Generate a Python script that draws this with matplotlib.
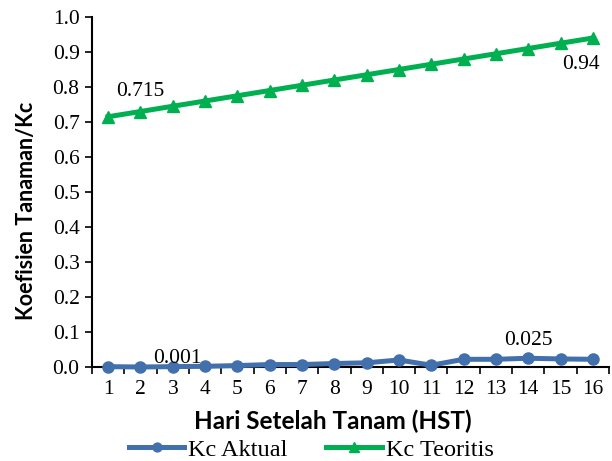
import numpy as np
import matplotlib.pyplot as plt

# Hari setelah tanam (HST)
hst = np.arange(1, 17)

# Koefisien tanaman aktual dan teoritis
kc_aktual = [0.001, 0.0, 0.001, 0.002, 0.004, 0.007, 0.007, 0.010,
             0.012, 0.020, 0.005, 0.022, 0.022, 0.025, 0.023, 0.022]
kc_teoritis = [0.715, 0.730, 0.745, 0.760, 0.775, 0.790, 0.805, 0.820,
               0.835, 0.850, 0.865, 0.880, 0.895, 0.910, 0.925, 0.940]

green = "#00B050"
blue = "#4170AD"
serif = ["Liberation Serif", "DejaVu Serif"]
sans = ["Lato", "DejaVu Sans"]

fig = plt.figure(figsize=(6.12, 4.61), dpi=100)
ax = fig.add_axes([92 / 612, 1 - 367 / 461, 517 / 612, 350 / 461])

ax.plot(hst, kc_aktual, color=blue, lw=3.6, marker="o", ms=8,
        label="Kc Aktual", clip_on=False, zorder=3)
ax.plot(hst, kc_teoritis, color=green, lw=3.6, marker="^", ms=8.5,
        label="Kc Teoritis", clip_on=False, zorder=3)

# data labels
lab_kw = dict(textcoords="offset points", fontsize=15.5, family=serif)
ax.annotate(f"{kc_aktual[2]:g}", (hst[2], kc_aktual[2]), xytext=(3, -1),
            ha="center", va="bottom", **lab_kw)
ax.annotate(f"{kc_aktual[13]:g}", (hst[13], kc_aktual[13]), xytext=(0, 6),
            ha="center", va="bottom", **lab_kw)
ax.annotate(f"{kc_teoritis[0]:g}", (hst[0], kc_teoritis[0]), xytext=(6, 11),
            ha="left", va="bottom", **lab_kw)
ax.annotate(f"{kc_teoritis[-1]:g}", (hst[-1], kc_teoritis[-1]), xytext=(5, -12),
            ha="right", va="top", **lab_kw)

ax.set_xlim(0.5, 16.5)
ax.set_ylim(0, 1.0)
ax.set_xticks(hst)
ax.set_xticks(np.arange(0.5, 17, 1), minor=True)
yt = np.round(np.arange(0, 1.01, 0.1), 1)
ax.set_yticks(yt)
ax.set_yticklabels([f"{v:.1f}" for v in yt])
ax.tick_params(axis="x", which="major", length=0, pad=9)
ax.tick_params(axis="x", which="minor", length=5, width=1.2, direction="out")
ax.tick_params(axis="y", length=5, width=1.2, direction="out", pad=4)
for lab in ax.get_xticklabels() + ax.get_yticklabels():
    lab.set_fontfamily(serif)
    lab.set_fontsize(15.5)

for side in ["top", "right"]:
    ax.spines[side].set_visible(False)
for side in ["left", "bottom"]:
    ax.spines[side].set_linewidth(1.5)

ax.set_xlabel("Hari Setelah Tanam (HST)", fontsize=17.5, fontweight="bold",
              family=sans, va="center")
ax.xaxis.set_label_coords(0.466, -0.154)
ax.set_ylabel("Koefisien Tanaman/Kc", fontsize=15.5, fontweight="bold",
              family=sans, va="center")
ax.yaxis.set_label_coords(-0.126, 0.445)

ax.legend(loc="center", bbox_to_anchor=(0.424, -0.237), ncol=2,
          frameon=False, prop={"family": serif, "size": 17.5},
          handlelength=2.3, handletextpad=0.15, columnspacing=1.6,
          borderaxespad=0, borderpad=0, markerscale=0.8)

fig.savefig("out.png", dpi=100)
